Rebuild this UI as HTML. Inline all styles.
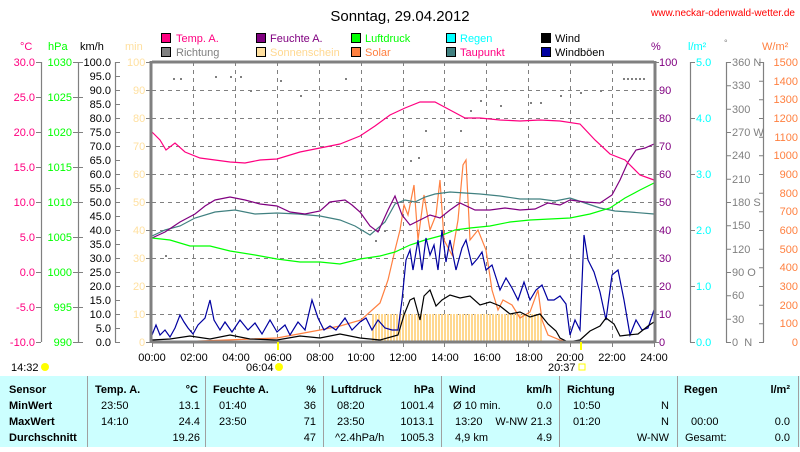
<!DOCTYPE html><html><head><style>
body{margin:0;width:800px;height:447px;background:#fff;overflow:hidden;font-family:"Liberation Sans",sans-serif}
svg text{font-family:"Liberation Sans",sans-serif;font-size:11px}
</style></head><body>
<svg width="800" height="447" viewBox="0 0 800 447" xmlns="http://www.w3.org/2000/svg">
<defs><pattern id="st" width="3" height="10" patternUnits="userSpaceOnUse"><rect width="2" height="10" fill="#ffd890"/></pattern></defs>
<text x="400" y="21" text-anchor="middle" style="font-size:15px">Sonntag, 29.04.2012</text>
<text x="795" y="16" text-anchor="end" fill="#ff0000" style="font-size:10px">www.neckar-odenwald-wetter.de</text>
<g stroke="#000" stroke-width="1">
<rect x="161.5" y="33.5" width="9" height="9" fill="#ff0080"/><rect x="161.5" y="47.5" width="9" height="9" fill="#808080"/>
<rect x="256.5" y="33.5" width="9" height="9" fill="#800080"/><rect x="256.5" y="47.5" width="9" height="9" fill="#ffe0a0"/>
<rect x="351.5" y="33.5" width="9" height="9" fill="#00ff00"/><rect x="351.5" y="47.5" width="9" height="9" fill="#ff8040"/>
<rect x="446.5" y="33.5" width="9" height="9" fill="#00ffff"/><rect x="446.5" y="47.5" width="9" height="9" fill="#408080"/>
<rect x="541.5" y="33.5" width="9" height="9" fill="#000"/><rect x="541.5" y="47.5" width="9" height="9" fill="#0000a0"/>
</g>
<text x="176" y="42" fill="#ff0080">Temp. A.</text><text x="176" y="56" fill="#808080">Richtung</text>
<text x="270" y="42" fill="#800080">Feuchte A.</text><text x="270" y="56" fill="#ffd890">Sonnenschein</text>
<text x="365" y="42" fill="#00ff00">Luftdruck</text><text x="365" y="56" fill="#ff8040">Solar</text>
<text x="460" y="42" fill="#00ffff">Regen</text><text x="460" y="56" fill="#ff0080">Taupunkt</text>
<text x="555" y="42">Wind</text><text x="555" y="56">Windböen</text>
<text x="20" y="50" fill="#ff0080">°C</text><text x="48" y="50" fill="#00ff00">hPa</text><text x="80" y="50">km/h</text><text x="125" y="50" fill="#ffe0a0">min</text>
<text x="651" y="50" fill="#800080">%</text><text x="688" y="50" fill="#00ffff">l/m²</text><text x="724" y="46" fill="#808080" style="font-size:9px">°</text><text x="762" y="50" fill="#ff8040">W/m²</text>
<g stroke="#808080" stroke-dasharray="4,4" stroke-width="1">
<path d="M152 90.5H654M152 118.5H654M152 146.5H654M152 174.5H654M152 202.5H654M152 230.5H654M152 258.5H654M152 286.5H654M152 314.5H654"/>
<path d="M193.5 62V342M235.5 62V342M277.5 62V342M319.5 62V342M361.5 62V342M403.5 62V342M444.5 62V342M486.5 62V342M528.5 62V342M570.5 62V342M612.5 62V342"/>
</g>
<rect x="372" y="314" width="170" height="28" fill="url(#st)"/>
<g fill="#808080">
<rect x="173" y="78" width="2" height="2"/><rect x="180" y="78" width="2" height="2"/><rect x="215" y="76" width="2" height="2"/><rect x="230" y="76" width="2" height="2"/><rect x="240" y="76" width="2" height="2"/><rect x="250" y="90" width="2" height="2"/><rect x="280" y="80" width="2" height="2"/><rect x="300" y="95" width="2" height="2"/><rect x="345" y="78" width="2" height="2"/><rect x="360" y="210" width="2" height="2"/><rect x="375" y="240" width="2" height="2"/><rect x="384" y="230" width="2" height="2"/><rect x="410" y="160" width="2" height="2"/><rect x="418" y="157" width="2" height="2"/><rect x="425" y="130" width="2" height="2"/><rect x="460" y="130" width="2" height="2"/><rect x="470" y="110" width="2" height="2"/><rect x="480" y="100" width="2" height="2"/><rect x="500" y="105" width="2" height="2"/><rect x="530" y="102" width="2" height="2"/><rect x="540" y="102" width="2" height="2"/><rect x="560" y="95" width="2" height="2"/><rect x="580" y="92" width="2" height="2"/><rect x="600" y="90" width="2" height="2"/><rect x="165" y="255" width="2" height="2"/><rect x="190" y="330" width="2" height="2"/>
<rect x="623" y="78" width="2" height="2"/><rect x="627" y="78" width="2" height="2"/><rect x="631" y="78" width="2" height="2"/><rect x="635" y="78" width="2" height="2"/><rect x="639" y="78" width="2" height="2"/><rect x="643" y="78" width="2" height="2"/>
</g>
<g fill="none" stroke-width="1.2">
<polyline stroke="#ff8040" points="152,343 200,341 277,338 320,330 340,326 361,320 380,303 388,280 395,250 400,230 404,205 408,215 414,185 418,240 424,195 430,230 436,215 440,180 444,240 452,255 458,220 463,165 466,160 468,200 470,240 478,230 486,250 492,290 498,310 503,300 512,305 520,318 530,312 538,290 542,320 548,335 560,340 570,342"/>
<polyline stroke="#408080" points="152,236 165,230 180,226 195,218 215,212 235,210 255,214 277,213 298,214 320,216 340,220 355,226 370,235 385,222 395,204 405,200 415,202 425,197 435,194 450,192 465,193 480,194 500,196 520,199 540,199 555,201 570,198 585,203 600,208 615,211 630,212 654,214"/>
<polyline stroke="#800080" points="152,238 165,232 180,222 195,214 205,206 215,200 230,197 245,200 260,204 277,206 290,212 305,214 320,211 330,202 345,200 352,205 360,212 370,226 378,232 388,210 395,196 402,215 410,225 420,220 430,215 440,218 450,210 460,203 475,210 490,210 505,208 520,210 535,209 548,203 560,205 570,200 585,202 600,203 612,195 620,180 628,162 636,150 645,148 654,144"/>
<polyline stroke="#00ff00" points="152,238 170,240 190,246 210,246 230,251 255,255 277,259 300,262 320,262 340,264 360,259 380,256 395,252 410,245 425,240 440,236 455,230 470,228 490,226 510,222 530,220 550,219 570,218 590,214 610,208 625,198 640,190 654,183"/>
<polyline stroke="#ff0080" points="152,132 160,140 166,150 175,143 185,152 200,158 215,160 230,162 245,163 260,160 277,159 300,152 320,148 340,144 360,136 375,126 390,115 405,108 420,102 435,102 450,110 465,118 480,118 500,120 520,121 540,120 560,121 580,124 595,140 610,154 625,160 640,175 654,180"/>
<polyline stroke="#0000a0" points="152,335 156,325 160,335 165,330 170,337 175,328 180,315 184,322 188,328 193,334 198,325 205,318 210,300 214,320 220,330 225,322 232,332 240,320 248,330 255,323 262,334 270,320 277,332 285,325 290,335 298,322 305,330 312,300 318,318 324,330 330,326 336,330 345,318 352,330 360,322 366,318 372,330 378,320 385,328 392,330 398,330 402,300 406,260 410,250 413,270 418,240 422,270 426,238 430,255 434,245 438,270 442,230 446,262 450,240 456,270 462,248 466,240 472,265 478,258 482,252 486,270 492,265 500,290 506,278 512,288 518,300 524,282 530,300 536,290 542,285 548,300 554,300 560,296 566,304 570,335 575,320 580,330 584,235 588,260 594,272 600,292 606,320 612,275 618,270 624,300 630,335 636,320 642,330 648,328 654,310"/>
<polyline stroke="#000" points="152,340 170,339 190,336 210,339 230,335 250,339 277,340 300,336 320,338 340,334 360,338 380,340 398,335 404,315 410,300 414,298 420,320 424,296 430,290 436,306 442,300 450,295 460,298 470,296 480,305 490,302 500,306 510,314 520,312 530,317 540,314 548,324 556,331 560,338 568,342 580,340 590,331 600,326 606,318 614,324 620,336 628,335 638,334 648,326 654,322"/>
</g>
<path d="M152 62H654M152 342H654" stroke="#808080" stroke-width="3"/>
<path d="M151 61V343M655 61V343" stroke="#808080" stroke-width="3"/>
<g stroke="#808080" stroke-width="1.2">
<path d="M41.5 62V342M78.5 62V342M115.5 62V342M763.5 62V342M726.5 62V342M690.5 62V342"/>
</g>
<g stroke="#808080"><path d="M36 62.5h5M36 97.5h5M36 132.5h5M36 167.5h5M36 202.5h5M36 237.5h5M36 272.5h5M36 307.5h5M36 342.5h5 M73 62.5h10M73 97.5h10M73 132.5h10M73 167.5h10M73 202.5h10M73 237.5h10M73 272.5h10M73 307.5h10M73 342.5h10 M115 62.5h5M115 76.5h5M115 90.5h5M115 104.5h5M115 118.5h5M115 132.5h5M115 146.5h5M115 160.5h5M115 174.5h5M115 188.5h5M115 202.5h5M115 216.5h5M115 230.5h5M115 244.5h5M115 258.5h5M115 272.5h5M115 286.5h5M115 300.5h5M115 314.5h5M115 328.5h5M115 342.5h5 M146 62.5h6M146 90.5h6M146 118.5h6M146 146.5h6M146 174.5h6M146 202.5h6M146 230.5h6M146 258.5h6M146 286.5h6M146 314.5h6M146 342.5h6 M654 62.5h5M654 90.5h5M654 118.5h5M654 146.5h5M654 174.5h5M654 202.5h5M654 230.5h5M654 258.5h5M654 286.5h5M654 314.5h5M654 342.5h5 M690 62.5h5M690 118.5h5M690 174.5h5M690 230.5h5M690 286.5h5M690 342.5h5 M726 62.5h5M726 85.8h5M726 109.2h5M726 132.5h5M726 155.8h5M726 179.2h5M726 202.5h5M726 225.8h5M726 249.2h5M726 272.5h5M726 295.8h5M726 319.2h5M726 342.5h5 M759 62.5h5M759 81.2h5M759 99.8h5M759 118.5h5M759 137.2h5M759 155.8h5M759 174.5h5M759 193.2h5M759 211.8h5M759 230.5h5M759 249.2h5M759 267.8h5M759 286.5h5M759 305.2h5M759 323.8h5M759 342.5h5"/></g>
<g text-anchor="end" fill="#ff0080"><text x="35" y="66">30.0</text><text x="35" y="101">25.0</text><text x="35" y="136">20.0</text><text x="35" y="171">15.0</text><text x="35" y="206">10.0</text><text x="35" y="241">5.0</text><text x="35" y="276">0.0</text><text x="35" y="311">-5.0</text><text x="35" y="346">-10.0</text></g>
<g text-anchor="end" fill="#00ff00"><text x="72" y="66">1030</text><text x="72" y="101">1025</text><text x="72" y="136">1020</text><text x="72" y="171">1015</text><text x="72" y="206">1010</text><text x="72" y="241">1005</text><text x="72" y="276">1000</text><text x="72" y="311">995</text><text x="72" y="346">990</text></g>
<g text-anchor="end"><text x="111" y="66">100.0</text><text x="111" y="80">95.0</text><text x="111" y="94">90.0</text><text x="111" y="108">85.0</text><text x="111" y="122">80.0</text><text x="111" y="136">75.0</text><text x="111" y="150">70.0</text><text x="111" y="164">65.0</text><text x="111" y="178">60.0</text><text x="111" y="192">55.0</text><text x="111" y="206">50.0</text><text x="111" y="220">45.0</text><text x="111" y="234">40.0</text><text x="111" y="248">35.0</text><text x="111" y="262">30.0</text><text x="111" y="276">25.0</text><text x="111" y="290">20.0</text><text x="111" y="304">15.0</text><text x="111" y="318">10.0</text><text x="111" y="332">5.0</text><text x="111" y="346">0.0</text></g>
<g fill="#ffe0a0"><text x="127" y="66">100</text><text x="133" y="94">90</text><text x="133" y="122">80</text><text x="133" y="150">70</text><text x="133" y="178">60</text><text x="133" y="206">50</text><text x="133" y="234">40</text><text x="133" y="262">30</text><text x="133" y="290">20</text><text x="133" y="318">10</text><text x="139" y="346">0</text></g>
<g fill="#800080"><text x="659" y="66">100</text><text x="659" y="94">90</text><text x="659" y="122">80</text><text x="659" y="150">70</text><text x="659" y="178">60</text><text x="659" y="206">50</text><text x="659" y="234">40</text><text x="659" y="262">30</text><text x="659" y="290">20</text><text x="659" y="318">10</text><text x="659" y="346">0</text></g>
<g fill="#00ffff"><text x="696" y="66">5.0</text><text x="696" y="122">4.0</text><text x="696" y="178">3.0</text><text x="696" y="234">2.0</text><text x="696" y="290">1.0</text><text x="696" y="346">0.0</text></g>
<g fill="#808080"><text x="732" y="66">360 N</text><text x="732" y="89">330</text><text x="732" y="113">300</text><text x="732" y="136">270 W</text><text x="732" y="159">240</text><text x="732" y="183">210</text><text x="732" y="206">180 S</text><text x="732" y="229">150</text><text x="732" y="253">120</text><text x="732" y="276">90 O</text><text x="732" y="299">60</text><text x="732" y="323">30</text><text x="732" y="346">0 &#160;N</text></g>
<g fill="#ff8040" text-anchor="end"><text x="798" y="66">1500</text><text x="798" y="85">1400</text><text x="798" y="103">1300</text><text x="798" y="122">1200</text><text x="798" y="141">1100</text><text x="798" y="159">1000</text><text x="798" y="178">900</text><text x="798" y="197">800</text><text x="798" y="215">700</text><text x="798" y="234">600</text><text x="798" y="253">500</text><text x="798" y="271">400</text><text x="798" y="290">300</text><text x="798" y="309">200</text><text x="798" y="327">100</text><text x="798" y="346">0</text></g>
<g stroke="#808080"><path d="M152.5 342v5M193.5 342v5M235.5 342v5M277.5 342v5M319.5 342v5M361.5 342v5M403.5 342v5M444.5 342v5M486.5 342v5M528.5 342v5M570.5 342v5M612.5 342v5M654.5 342v5"/></g>
<path d="M278 342v8M581 342v8" stroke="#ffff00" stroke-width="2"/>
<g text-anchor="middle"><text x="152" y="361">00:00</text><text x="194" y="361">02:00</text><text x="236" y="361">04:00</text><text x="278" y="361">06:00</text><text x="320" y="361">08:00</text><text x="361" y="361">10:00</text><text x="403" y="361">12:00</text><text x="445" y="361">14:00</text><text x="487" y="361">16:00</text><text x="529" y="361">18:00</text><text x="570" y="361">20:00</text><text x="612" y="361">22:00</text><text x="654" y="361">24:00</text></g>
<text x="11" y="371">14:32</text><circle cx="45" cy="367" r="4" fill="#ffff00"/>
<text x="246" y="371">06:04</text><circle cx="279" cy="367" r="4" fill="#ffff00"/>
<text x="548" y="371">20:37</text><rect x="579" y="364" width="6" height="6" fill="none" stroke="#ffff00"/>
<rect x="0" y="376" width="800" height="71" fill="#ccffff"/>
<g stroke="#a0a0a0"><path d="M87.5 376V447M205.5 376V447M323.5 376V447M441.5 376V447M559.5 376V447M677.5 376V447M798.5 376V447"/></g>
<g style="font-weight:bold"><text x="9" y="393">Sensor</text><text x="9" y="409">MinWert</text><text x="9" y="425">MaxWert</text><text x="9" y="441">Durchschnitt</text>
<text x="95" y="393">Temp. A.</text><text x="198" y="393" text-anchor="end">°C</text><text x="213" y="393">Feuchte A.</text><text x="316" y="393" text-anchor="end">%</text><text x="331" y="393">Luftdruck</text><text x="434" y="393" text-anchor="end">hPa</text><text x="449" y="393">Wind</text><text x="552" y="393" text-anchor="end">km/h</text><text x="567" y="393">Richtung</text><text x="684" y="393">Regen</text><text x="790" y="393" text-anchor="end">l/m²</text></g>
<g><text x="101" y="409">23:50</text><text x="200" y="409" text-anchor="end">13.1</text><text x="219" y="409">01:40</text><text x="316" y="409" text-anchor="end">36</text><text x="337" y="409">08:20</text><text x="434" y="409" text-anchor="end">1001.4</text><text x="453" y="409">Ø 10 min.</text><text x="552" y="409" text-anchor="end">0.0</text><text x="573" y="409">10:50</text><text x="669" y="409" text-anchor="end">N</text>
<text x="101" y="425">14:10</text><text x="200" y="425" text-anchor="end">24.4</text><text x="219" y="425">23:50</text><text x="316" y="425" text-anchor="end">71</text><text x="337" y="425">23:50</text><text x="434" y="425" text-anchor="end">1013.1</text><text x="455" y="425">13:20</text><text x="552" y="425" text-anchor="end">W-NW 21.3</text><text x="573" y="425">01:20</text><text x="669" y="425" text-anchor="end">N</text><text x="691" y="425">00:00</text><text x="790" y="425" text-anchor="end">0.0</text>
<text x="200" y="441" text-anchor="end">19.26</text><text x="316" y="441" text-anchor="end">47</text><text x="335" y="441">^2.4hPa/h</text><text x="434" y="441" text-anchor="end">1005.3</text><text x="455" y="441">4,9 km</text><text x="552" y="441" text-anchor="end">4.9</text><text x="669" y="441" text-anchor="end">W-NW</text><text x="685" y="441">Gesamt:</text><text x="790" y="441" text-anchor="end">0.0</text></g>
</svg>
</body></html>
